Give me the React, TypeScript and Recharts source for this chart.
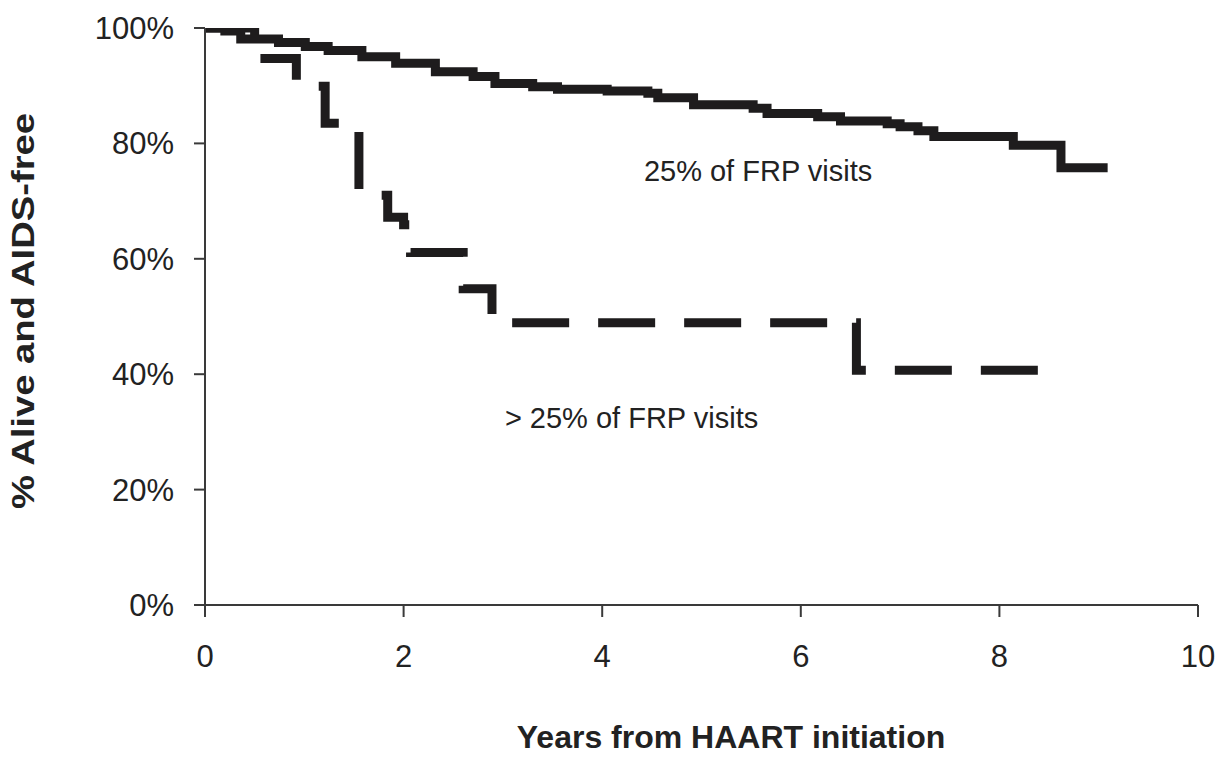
import React from 'react';
import { LineChart, Line, XAxis, YAxis, Label, ReferenceDot } from 'recharts';

// Solid curve: "25% of FRP visits" (years, % alive and AIDS-free)
const solidYears = [0, 0.2, 0.36, 0.74, 1.01, 1.24, 1.58, 1.92, 2.32, 2.7, 2.92, 3.3, 3.55, 4.05, 4.46, 4.56, 4.92, 5.52, 5.66, 6.17, 6.4, 6.87, 7.0, 7.18, 7.34, 8.14, 8.62, 9.09];
const solidPct = [100, 99.5, 98.1, 97.5, 96.8, 96.1, 95.0, 93.9, 92.4, 91.6, 90.4, 89.8, 89.4, 89.1, 88.7, 87.9, 86.7, 86.1, 85.2, 84.6, 83.9, 83.4, 82.9, 82.2, 81.2, 79.7, 75.8, 75.8];

// Dashed curve: "> 25% of FRP visits"
const dashYears = [0, 0.5, 0.92, 1.21, 1.55, 1.84, 2.0, 2.07, 2.6, 2.89, 6.56, 8.42];
const dashPct = [100, 94.7, 89.9, 83.5, 71.0, 67.2, 65.9, 61.1, 54.8, 48.9, 40.7, 40.7];

const xTicks = [0, 2, 4, 6, 8, 10];
const yTicks = [0, 20, 40, 60, 80, 100];

const xTitle = 'Years from HAART initiation';
const yTitle = '% Alive and AIDS-free';
const solidLabel = '25% of FRP visits';
const dashLabel = '> 25% of FRP visits';

const solidData = solidYears.map((t, i) => ({ t, v: solidPct[i] }));
const dashData = dashYears.map((t, i) => ({ t, v: dashPct[i] }));

const FONT = '"Liberation Sans", Arial, Helvetica, sans-serif';
const TEXT = '#222';
const AXIS = '#3a3a3a';

export default function App() {
  return (
    <div style={{ position: 'absolute', left: 0, top: 0, width: 1220, height: 757, background: '#fff' }}>
      <LineChart
        width={1220}
        height={757}
        margin={{ top: 28, right: 22, bottom: 72, left: 25 }}
        style={{ fontFamily: FONT }}
      >
        <XAxis
          dataKey="t"
          type="number"
          domain={[0, 10]}
          ticks={xTicks}
          allowDataOverflow
          height={80}
          tickSize={12}
          tickMargin={28}
          stroke={AXIS}
          strokeWidth={2}
          tick={{ fill: TEXT, fontSize: 31, fontFamily: FONT }}
          label={
            <Label
              content={() => (
                <text x={731} y={748} textAnchor="middle" fill={TEXT} fontSize={32} fontWeight="bold" fontFamily={FONT}>
                  {xTitle}
                </text>
              )}
            />
          }
        />
        <YAxis
          type="number"
          domain={[0, 100]}
          ticks={yTicks}
          allowDataOverflow
          width={180}
          tickSize={11}
          tickMargin={20}
          stroke={AXIS}
          strokeWidth={2}
          tickFormatter={(v: number) => `${v}%`}
          tick={{ fill: TEXT, fontSize: 31, fontFamily: FONT }}
          label={
            <Label
              content={() => (
                <text
                  x={0}
                  y={0}
                  transform="translate(34 311) rotate(-90)"
                  textAnchor="middle"
                  fill={TEXT}
                  fontSize={32}
                  fontWeight="bold"
                  fontFamily={FONT}
                  textLength={396}
                  lengthAdjust="spacingAndGlyphs"
                >
                  {yTitle}
                </text>
              )}
            />
          }
        />
        <Line
          data={dashData}
          dataKey="v"
          type="stepAfter"
          stroke="#1e1c1d"
          strokeWidth={9}
          strokeDasharray="57 29"
          dot={false}
          activeDot={false}
          isAnimationActive={false}
          strokeLinejoin="miter"
        />
        <Line
          data={solidData}
          dataKey="v"
          type="stepAfter"
          stroke="#1e1c1d"
          strokeWidth={9}
          dot={false}
          activeDot={false}
          isAnimationActive={false}
          strokeLinejoin="miter"
        />
        <ReferenceDot
          x={4.42}
          y={73.5}
          r={0}
          ifOverflow="visible"
          label={
            <Label
              content={(p: any) => (
                <text x={p.viewBox.x} y={p.viewBox.y} textAnchor="start" fill={TEXT} fontSize={29} fontFamily={FONT}>
                  {solidLabel}
                </text>
              )}
            />
          }
        />
        <ReferenceDot
          x={3.02}
          y={30.7}
          r={0}
          ifOverflow="visible"
          label={
            <Label
              content={(p: any) => (
                <text x={p.viewBox.x} y={p.viewBox.y} textAnchor="start" fill={TEXT} fontSize={29} fontFamily={FONT}>
                  {dashLabel}
                </text>
              )}
            />
          }
        />
      </LineChart>
    </div>
  );
}
